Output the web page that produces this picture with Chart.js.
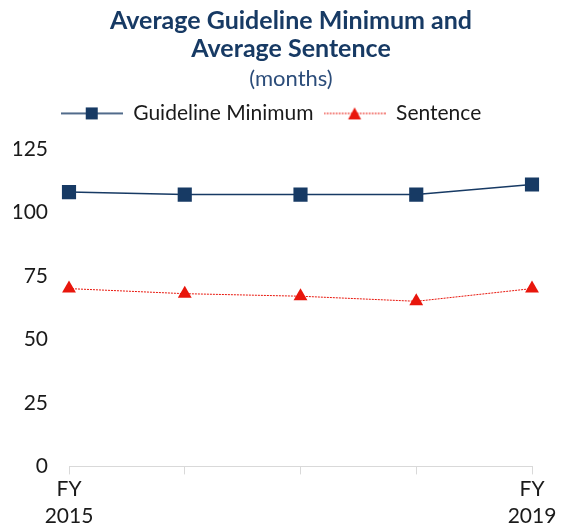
<!DOCTYPE html>
<html>
<head>
<meta charset="utf-8">
<title>Average Guideline Minimum and Average Sentence</title>
<script src="https://cdn.jsdelivr.net/npm/chart.js@4"></script>
<style>
    html, body { margin: 0; padding: 0; background: #fff; }
    #wrap { width: 568px; height: 529px; position: relative; }
</style>
</head>
<body>
<div id="wrap"><canvas id="chart"></canvas></div>
<script>
// Data
const years = ['FY 2015', 'FY 2016', 'FY 2017', 'FY 2018', 'FY 2019'];
const guidelineMinimum = [108, 107, 107, 107, 111];
const sentence = [70, 68, 67, 65, 70];
const yTicks = [0, 25, 50, 75, 100, 125];

const FONT = 'Lato, "Noto Sans", sans-serif';
const NAVY = '#173a64';
const RED = '#e8160c';

// Legend swatch: short line with the marker on it
function legendSwatch(color, style, dash) {
    const c = document.createElement('canvas');
    c.width = 62;
    c.height = 16;
    const ctx = c.getContext('2d');
    ctx.strokeStyle = color;
    ctx.lineWidth = dash ? 1 : 1.5;
    if (dash) ctx.setLineDash(dash);
    ctx.beginPath();
    ctx.moveTo(0, 8);
    ctx.lineTo(62, 8);
    ctx.stroke();
    ctx.fillStyle = color;
    ctx.beginPath();
    if (style === 'rect') {
        ctx.rect(25, 2, 12, 12);
    } else {
        ctx.moveTo(31, 2);
        ctx.lineTo(37.5, 14);
        ctx.lineTo(24.5, 14);
        ctx.closePath();
    }
    ctx.fill();
    return c;
}

const swatches = [
    legendSwatch(NAVY, 'rect', null),
    legendSwatch(RED, 'triangle', [2, 1])
];

// more room under the legend, and legend sits a little left of the title
const legendTweak = {
    id: 'legendTweak',
    beforeInit(chart) {
        const fit = chart.legend.fit;
        chart.legend.fit = function () {
            fit.bind(chart.legend)();
            this.height += 15;
        };
    },
    afterLayout(chart) {
        chart.legend.right -= 40;
    }
};

new Chart(document.getElementById('chart'), {
    type: 'line',
    data: {
        labels: years,
        datasets: [{
            label: 'Guideline Minimum',
            data: guidelineMinimum,
            borderColor: NAVY,
            backgroundColor: NAVY,
            borderWidth: 1.5,
            pointStyle: 'rect',
            pointRadius: 10,
            pointBorderWidth: 0,
            tension: 0
        }, {
            label: 'Sentence',
            data: sentence,
            borderColor: RED,
            backgroundColor: RED,
            borderWidth: 1,
            borderDash: [2, 1],
            pointStyle: 'triangle',
            pointRadius: 8,
            pointBorderWidth: 0,
            tension: 0
        }]
    },
    plugins: [legendTweak],
    options: {
        responsive: true,
        maintainAspectRatio: false,
        animation: false,
        layout: {
            padding: { left: 14, right: 0, top: 7, bottom: 0 }
        },
        plugins: {
            title: {
                display: true,
                text: ['Average Guideline Minimum and', 'Average Sentence'],
                color: NAVY,
                font: { family: FONT, size: 25, weight: 'bold', lineHeight: 1.13 },
                padding: { top: 0, bottom: 0 }
            },
            subtitle: {
                display: true,
                text: '(months)',
                color: '#2c4d7a',
                font: { family: FONT, size: 22, weight: 'normal' },
                padding: { top: 2, bottom: 1 }
            },
            legend: {
                position: 'top',
                labels: {
                    color: '#1a1a1a',
                    font: { family: FONT, size: 21 },
                    usePointStyle: true,
                    pointStyleWidth: 62,
                    boxHeight: 16,
                    padding: 10,
                    generateLabels: (chart) => chart.data.datasets.map((ds, i) => ({
                        text: ds.label,
                        pointStyle: swatches[i],
                        fillStyle: ds.backgroundColor,
                        strokeStyle: ds.borderColor,
                        lineWidth: 0,
                        fontColor: '#1a1a1a',
                        datasetIndex: i,
                        hidden: !chart.isDatasetVisible(i)
                    }))
                }
            },
            tooltip: { enabled: false }
        },
        scales: {
            x: {
                offset: false,
                grid: {
                    display: true,
                    drawOnChartArea: false,
                    drawTicks: true,
                    tickLength: 8,
                    color: '#d9d9d9'
                },
                border: { display: true, color: '#d9d9d9', width: 1 },
                afterFit: (axis) => {
                    axis.height -= 2;
                    axis.paddingRight = 36;
                },
                ticks: {
                    color: '#1a1a1a',
                    font: { family: FONT, size: 21, lineHeight: 1.3 },
                    maxRotation: 0,
                    autoSkip: false,
                    padding: 1,
                    callback: function (value, index) {
                        if (index === 0 || index === years.length - 1) {
                            return years[index].split(' ');
                        }
                        return '';
                    }
                }
            },
            y: {
                min: yTicks[0],
                max: yTicks[yTicks.length - 1],
                grid: { display: false, drawTicks: false },
                border: { display: false },
                afterBuildTicks: (axis) => {
                    axis.ticks = yTicks.map(v => ({ value: v }));
                },
                afterFit: (axis) => {
                    axis.width = 55;
                },
                ticks: {
                    color: '#1a1a1a',
                    font: { family: FONT, size: 21 },
                    padding: 21
                }
            }
        }
    }
});
</script>
</body>
</html>
